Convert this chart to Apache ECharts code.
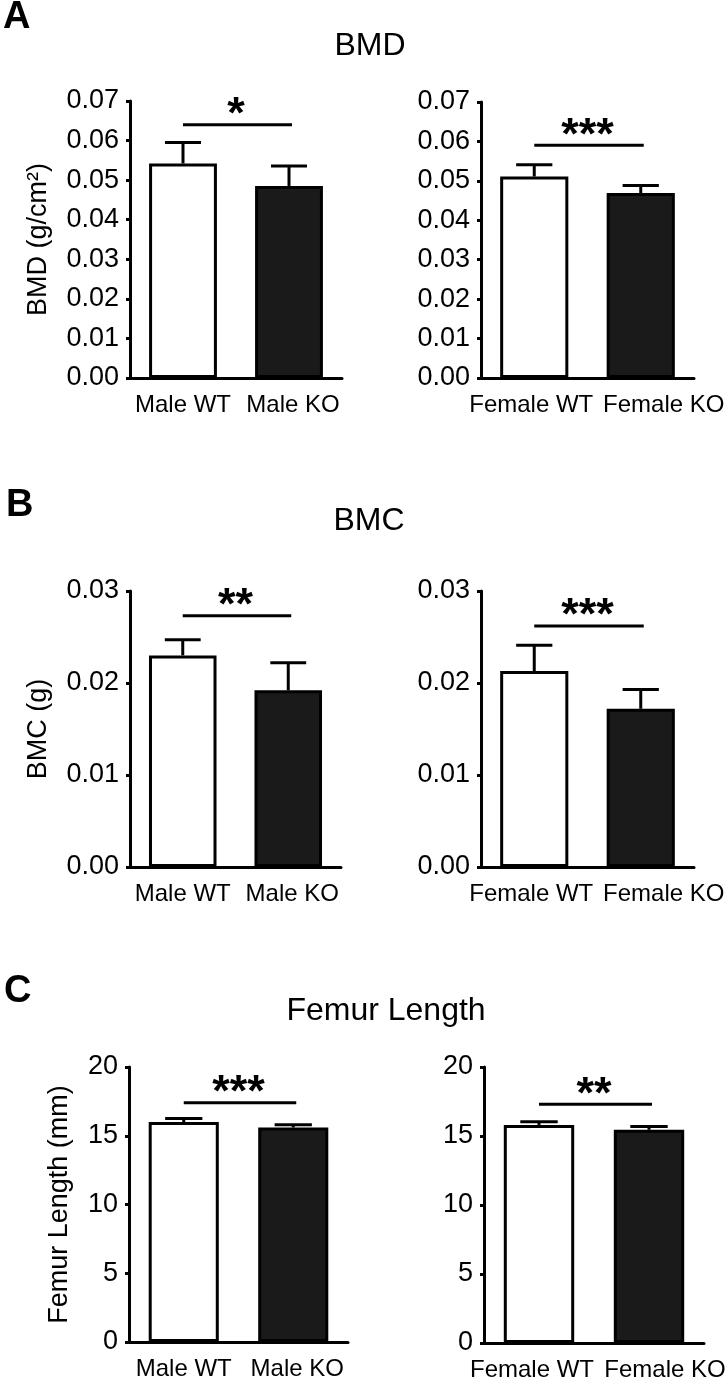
<!DOCTYPE html>
<html>
<head>
<meta charset="utf-8">
<script src="https://cdn.jsdelivr.net/npm/echarts@6/dist/echarts.min.js"></script>
<style>
html,body{margin:0;padding:0;background:#fff;}
#chart{width:728px;height:1384px;}
</style>
</head>
<body>
<div id="chart"></div>
<script>
// ---- data ----
const catsMale = ['Male WT', 'Male KO'];
const catsFemale = ['Female WT', 'Female KO'];

const bmdMale = [0.0542, 0.0485];
const bmdMaleErr = [0.0053, 0.0051];
const bmdFemale = [0.0511, 0.0469];
const bmdFemaleErr = [0.0030, 0.0019];

const bmcMale = [0.0230, 0.0192];
const bmcMaleErr = [0.0017, 0.0030];
const bmcFemale = [0.0213, 0.0172];
const bmcFemaleErr = [0.0028, 0.0021];

const femurMale = [16.0, 15.6];
const femurMaleErr = [0.25, 0.20];
const femurFemale = [15.8, 15.45];
const femurFemaleErr = [0.24, 0.24];

const sigHeights = [0.064, 0.059, 0.0273, 0.0262, 17.4, 17.3];
const sigLabels = ['*', '***', '**', '***', '***', '**'];

const bmdTicks = [0, 0.01, 0.02, 0.03, 0.04, 0.05, 0.06, 0.07];
const bmcTicks = [0, 0.01, 0.02, 0.03];
const femurTicks = [0, 5, 10, 15, 20];

const panelTitles = ['BMD', 'BMC', 'Femur Length'];
const panelLetters = ['A', 'B', 'C'];
const yNames = ['BMD (g/cm²)', 'BMC (g)', 'Femur Length (mm)'];

// ---- layout / style ----
const FONT = "'Liberation Sans', Arial, sans-serif";
// horizontal nudges (px) of the category labels relative to their ticks
const shiftMale = [0, 4];
const shiftFemale = [-3, 23];
const shiftFemaleC = [-7, 16];

const panels = [
  {cats: catsMale, vals: bmdMale, errs: bmdMaleErr, ticks: bmdTicks, dec: 2, name: yNames[0], nameGap: 78, shift: shiftMale, grid: {left: 130, top: 101, width: 212, height: 277}},
  {cats: catsFemale, vals: bmdFemale, errs: bmdFemaleErr, ticks: bmdTicks, dec: 2, name: '', nameGap: 0, shift: shiftFemale, grid: {left: 481, top: 102, width: 213, height: 276}},
  {cats: catsMale, vals: bmcMale, errs: bmcMaleErr, ticks: bmcTicks, dec: 2, name: yNames[1], nameGap: 78, shift: shiftMale, grid: {left: 130, top: 591, width: 211, height: 276}},
  {cats: catsFemale, vals: bmcFemale, errs: bmcFemaleErr, ticks: bmcTicks, dec: 2, name: '', nameGap: 0, shift: shiftFemale, grid: {left: 481, top: 591, width: 213, height: 276}},
  {cats: catsMale, vals: femurMale, errs: femurMaleErr, ticks: femurTicks, dec: 0, name: yNames[2], nameGap: 56, shift: shiftMale, grid: {left: 129, top: 1067, width: 219, height: 275}},
  {cats: catsFemale, vals: femurFemale, errs: femurFemaleErr, ticks: femurTicks, dec: 0, name: '', nameGap: 0, shift: shiftFemaleC, grid: {left: 484, top: 1067, width: 220, height: 276}}
];

const catStyle = {color: '#000', fontSize: 24, fontFamily: FONT};

const grids = [], xAxes = [], yAxes = [], series = [];
panels.forEach((p, i) => {
  grids.push(Object.assign({outerBoundsMode: 'none', containLabel: false}, p.grid));
  const rich = {};
  p.shift.forEach((s, k) => {
    rich['c' + k] = Object.assign({}, catStyle, {padding: s >= 0 ? [0, 0, 0, 2 * s] : [0, -2 * s, 0, 0]});
  });
  xAxes.push({
    type: 'category', gridIndex: i, data: p.cats,
    axisLine: {lineStyle: {color: '#000', width: 3}},
    axisTick: {alignWithLabel: true, length: 9, lineStyle: {color: '#000', width: 3}},
    axisLabel: Object.assign({}, catStyle, {margin: 15, interval: 0, hideOverlap: false,
      formatter: (v, idx) => '{c' + idx + '|' + v + '}', rich: rich}),
    splitLine: {show: false}
  });
  const tmin = p.ticks[0], tmax = p.ticks[p.ticks.length - 1];
  const step = p.ticks[1] - p.ticks[0];
  yAxes.push({
    type: 'value', gridIndex: i, min: tmin, max: tmax, interval: step,
    name: p.name, nameLocation: 'middle', nameGap: p.nameGap,
    nameTextStyle: {color: '#000', fontSize: 27, fontFamily: FONT},
    axisLine: {show: true, lineStyle: {color: '#000', width: 3}},
    axisTick: {show: true, length: 4, lineStyle: {color: '#000', width: 3}},
    axisLabel: {color: '#000', fontSize: 27, fontFamily: FONT, margin: 11,
      formatter: v => Number(v).toFixed(p.dec)},
    splitLine: {show: false}
  });
  series.push({
    type: 'bar', xAxisIndex: i, yAxisIndex: i, barWidth: '64%', z: 2,
    data: p.vals.map((v, k) => ({value: v, itemStyle: {color: k === 0 ? '#ffffff' : '#1a1a1a', borderColor: '#000', borderWidth: 3}})),
    animation: false
  });
  series.push({
    type: 'custom', xAxisIndex: i, yAxisIndex: i, z: 3, animation: false,
    data: p.vals.map((v, k) => [k, v, p.errs[k]]),
    encode: {x: 0, y: 1},
    renderItem: (params, api) => {
      const x = api.value(0), m = api.value(1), e = api.value(2);
      const b = api.coord([x, m]);
      const t = api.coord([x, m + e]);
      const half = api.size([1, 0])[0] * 0.17;
      return {type: 'group', children: [
        {type: 'line', shape: {x1: b[0], y1: b[1], x2: t[0], y2: t[1]}, style: {stroke: '#000', lineWidth: 3}},
        {type: 'line', shape: {x1: t[0] - half, y1: t[1], x2: t[0] + half, y2: t[1]}, style: {stroke: '#000', lineWidth: 3}}
      ]};
    }
  });
  series.push({
    type: 'custom', xAxisIndex: i, yAxisIndex: i, z: 4, animation: false,
    data: [[0, sigHeights[i]]],
    encode: {x: 0, y: 1},
    renderItem: (params, api) => {
      const y = api.value(1);
      const p1 = api.coord([0, y]);
      const p2 = api.coord([1, y]);
      return {type: 'group', children: [
        {type: 'line', shape: {x1: p1[0], y1: p1[1], x2: p2[0] + 3, y2: p2[1]}, style: {stroke: '#000', lineWidth: 3}},
        {type: 'text', x: (p1[0] + p2[0]) / 2, y: p1[1] - 9,
          style: {text: sigLabels[i], fill: '#000', font: 'bold 45px ' + FONT, align: 'center', verticalAlign: 'middle'}}
      ]};
    }
  });
});

const titlePos = [[370, 46], [369, 521], [386, 1011]];
const letterPos = [[3, 18], [6, 506], [4, 992]];
const graphics = [];
panelTitles.forEach((t, i) => {
  graphics.push({type: 'text', x: titlePos[i][0], y: titlePos[i][1],
    style: {text: t, fill: '#000', font: '32px ' + FONT, align: 'center', verticalAlign: 'middle'}});
  graphics.push({type: 'text', x: letterPos[i][0], y: letterPos[i][1],
    style: {text: panelLetters[i], fill: '#000', font: 'bold 38px ' + FONT, align: 'left', verticalAlign: 'middle'}});
});

const chart = echarts.init(document.getElementById('chart'), null, {renderer: 'canvas'});
chart.setOption({
  backgroundColor: '#fff',
  animation: false,
  textStyle: {fontFamily: FONT},
  grid: grids, xAxis: xAxes, yAxis: yAxes, series: series,
  graphic: graphics
});
</script>
</body>
</html>
